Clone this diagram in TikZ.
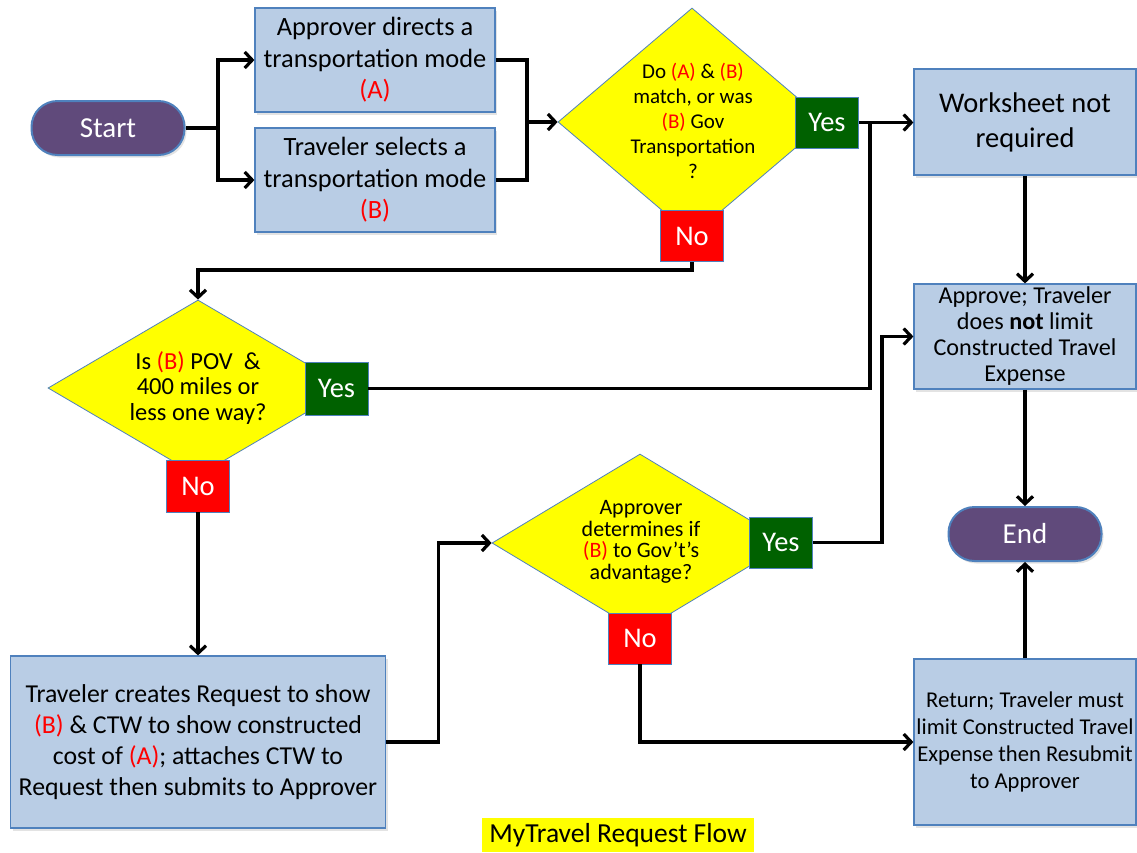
\documentclass[tikz,border=0pt]{standalone}
\usepackage{fontspec}
\setmainfont{Carlito}
\usetikzlibrary{arrows.meta,shadows,shapes.geometric}
\definecolor{boxfill}{HTML}{B9CDE5}
\definecolor{boxline}{HTML}{4F81BD}
\definecolor{pillfill}{HTML}{604A7B}
\definecolor{yesgreen}{RGB}{0,97,0}
\definecolor{nored}{RGB}{255,0,0}
\definecolor{dyellow}{RGB}{255,255,0}
\newcommand{\rd}[1]{\textcolor{nored}{#1}}
\begin{document}
\begin{tikzpicture}[x=1pt,y=-1pt,
  shad/.style={drop shadow={shadow xshift=2pt,shadow yshift=-2.5pt,opacity=0.22}},
  bluebox/.style={rectangle,draw=boxline,line width=1.2pt,fill=boxfill,align=center,inner sep=0pt,shad},
  pill/.style={rectangle,rounded corners=26pt,draw=boxline,line width=2pt,fill=pillfill,text=white,inner sep=0pt,minimum width=153pt,minimum height=54pt,font=\fontsize{29}{33}\selectfont,shad},
  decision/.style={diamond,draw=boxline,line width=0.8pt,fill=dyellow,inner sep=0pt},
  dtext/.style={align=center,inner sep=0pt},
  yesbox/.style={rectangle,draw=boxline,line width=0.8pt,fill=yesgreen,text=white,inner sep=0pt,minimum width=63pt,minimum height=51pt,font=\fontsize{28.5}{31}\selectfont},
  nobox/.style={yesbox,fill=nored},
  conn/.style={line width=3.2pt,black},
  arr/.style={conn,-{Straight Barb[length=7.5pt,width=16pt]}}
]
\useasboundingbox (0,0) rectangle (1137,852);
\fill[white] (0,0) rectangle (1137,852);

% terminals
\node[pill] (start) at (108,128) {Start};
\node[pill] (end) at (1025,534) {End};

% top boxes
\node[bluebox,minimum width=240pt,minimum height=104pt,font=\fontsize{26.4}{31.5}\selectfont] (boxA) at (375,60)
  {Approver directs a\\transportation mode\\\rd{(A)}};
\node[bluebox,minimum width=240pt,minimum height=104pt,font=\fontsize{26.4}{31.5}\selectfont] (boxB) at (375,180)
  {Traveler selects a\\transportation mode\\\rd{(B)}};

% right column
\node[bluebox,minimum width=222pt,minimum height=106pt,font=\fontsize{28.5}{35}\selectfont] (ws) at (1025,122)
  {Worksheet not\\required};
\node[bluebox,minimum width=222pt,minimum height=105pt,font=\fontsize{24.2}{26}\selectfont] (approve) at (1025,336.5)
  {Approve; Traveler\\does \textbf{not} limit\\Constructed Travel\\Expense};
\node[bluebox,minimum width=222pt,minimum height=166pt,font=\fontsize{22.6}{26.7}\selectfont] (ret) at (1025,742)
  {Return; Traveler must\\limit Constructed Travel\\Expense then Resubmit\\to Approver};

% bottom-left box
\node[bluebox,minimum width=375pt,minimum height=172pt,font=\fontsize{25.8}{31}\selectfont] (trav) at (198,742)
  {Traveler creates Request to show\\\rd{(B)} \& CTW to show constructed\\cost of \rd{(A)}; attaches CTW to\\Request then submits to Approver};

% decisions
\node[decision,minimum width=268pt,minimum height=228pt] (d1) at (692,122) {};
\node[dtext,font=\fontsize{21}{25}\selectfont] (d1t) at (693,121)
  {Do \rd{(A)} \& \rd{(B)}\\match, or was\\\rd{(B)} Gov\\Transportation\\?};
\node[decision,minimum width=300pt,minimum height=176pt] (d2) at (198,388) {};
\node[dtext,font=\fontsize{24.5}{25.5}\selectfont] (d2t) at (198,388)
  {Is \rd{(B)} POV\ \ \&\\400 miles or\\less one way?};
\node[decision,minimum width=296pt,minimum height=178pt] (d3) at (640,543) {};
\node[dtext,font=\fontsize{22}{21.5}\selectfont] (d3t) at (641,542)
  {Approver\\determines if\\\rd{(B)} to Gov’t’s\\advantage?};

% yes / no labels
\node[yesbox] (yes1) at (827,122.5) {Yes};
\node[nobox] (no1) at (692,236) {No};
\node[yesbox,minimum height=53pt] (yes2) at (336.5,388.5) {Yes};
\node[nobox,minimum height=52pt] (no2) at (198,486) {No};
\node[yesbox] (yes3) at (781,542.5) {Yes};
\node[nobox] (no3) at (640,638.5) {No};

% title
\node[fill=dyellow,inner sep=0pt,minimum width=272pt,minimum height=34pt,font=\fontsize{27.5}{30}\selectfont] (title) at (618,835) {MyTravel Request Flow};

% connectors
\coordinate (j1) at (218,128);
\coordinate (j2) at (527,122);
\coordinate (j3) at (870,122.5);
\draw[conn] (start.east) -- (j1);
\draw[arr] (j1) |- (boxA.west);
\draw[arr] (j1) |- (boxB.west);
\draw[conn] (boxA.east) -| (j2);
\draw[conn] (boxB.east) -| (j2);
\draw[arr] (j2) -- (d1.west);
\draw[arr] (yes1.east) -- (ws.west |- yes1.east);
\draw[conn] (yes2.east) -| (j3);
\draw[arr] (no1.south) -- ++(0,8) -| (d2.north);
\draw[arr] (ws.south) -- (approve.north);
\draw[arr] (approve.south) -- (end.north);
\draw[arr] (no2.south) -- (trav.north);
\draw[arr] (trav.east) -- ++(52,0) |- (d3.west);
\draw[arr] (yes3.east) -- ++(69,0) |- (approve.west);
\draw[arr] (no3.south) |- (ret.west);
\draw[arr] (ret.north) -- (end.south);
\end{tikzpicture}
\end{document}
